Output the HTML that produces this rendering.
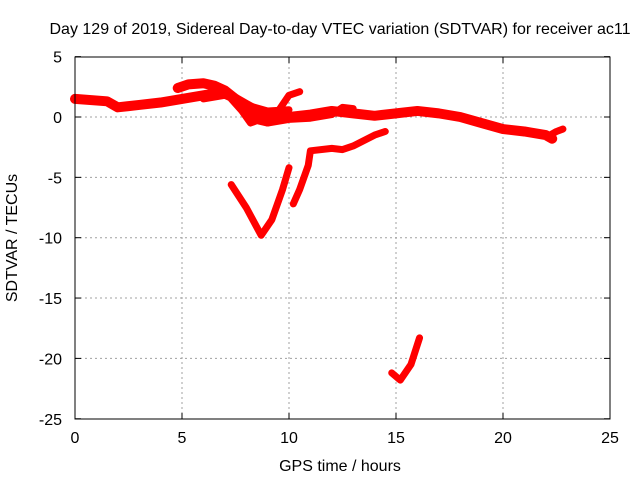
<!DOCTYPE html>
<html><head><meta charset="utf-8"><style>
body{margin:0;background:#fff}
svg{display:block;font-family:"Liberation Sans",sans-serif;font-size:16px}
</style></head><body>
<svg id="chart" width="640" height="480">
<rect width="640" height="480" fill="#fff"/>
<g id="grid"></g>
<g id="series"></g>
<rect x="75" y="57" width="535" height="362" fill="none" stroke="#000" stroke-width="1"/>
<g id="ticks"></g>
<text x="340" y="34" text-anchor="middle">Day 129 of 2019, Sidereal Day-to-day VTEC variation (SDTVAR) for receiver ac11</text>
<text x="340" y="471" text-anchor="middle">GPS time / hours</text>
<text x="17" y="238" text-anchor="middle" transform="rotate(-90 17 238)">SDTVAR / TECUs</text>
</svg>
<script>
const xTicks=[0,5,10,15,20,25];
const yTicks=[5,0,-5,-10,-15,-20,-25];
const trackMain=[[0,1.5],[1.5,1.3],[2,0.8],[3,1.0],[4,1.2],[5,1.5],[6,1.8],[7,2.1],[7.5,1.5],[8,0.5],[8.5,0],[9,-0.3],[10,0],[11,0.2],[12,0.5],[13,0.3],[14,0.1],[15,0.3],[16,0.5],[17,0.3],[18,0],[19,-0.5],[20,-1],[21,-1.2],[22,-1.5],[22.3,-1.8]];
const trackArc=[[4.8,2.4],[5.3,2.7],[6,2.8],[6.5,2.6],[7,2.2],[7.5,1.5],[8,1.0],[8.5,0.5],[9,0.3]];
const trackLoop=[[7.3,1.5],[7.8,0.5],[8.2,-0.5],[8.5,-0.3],[9,-0.5],[9.5,0.5],[10,1.8],[10.5,2.1]];
const trackMid=[[9,-0.5],[10,-0.2],[11,-0.1],[12,0.2],[12.5,0.8],[13,0.7]];
const trackUpper=[[6,1.5],[7,1.8],[8,1.0],[9,0.5],[10,0.6]];
const trackEnd=[[22.2,-1.5],[22.5,-1.2],[22.8,-1.0]];
const trackRise=[[10.2,-7.2],[10.5,-6],[10.9,-4],[11,-2.8],[12,-2.6],[12.5,-2.7],[13,-2.4],[14,-1.5],[14.5,-1.2]];
const trackV=[[7.3,-5.6],[8,-7.5],[8.7,-9.8],[9.2,-8.5],[9.7,-6],[10,-4.2]];
const trackLow=[[14.8,-21.2],[15.2,-21.8],[15.7,-20.5],[16.1,-18.3]];
const tracks=[trackMain,trackArc,trackLoop,trackMid,trackUpper,trackEnd,trackRise,trackV,trackLow];
const sx=h=>75+h*21.4, sy=v=>117-v*12.07;
const NS="http://www.w3.org/2000/svg";
const grid=document.getElementById('grid'),ticks=document.getElementById('ticks'),ser=document.getElementById('series');
function mk(tag,attrs,parent){const e=document.createElementNS(NS,tag);for(const k in attrs)e.setAttribute(k,attrs[k]);parent.appendChild(e);return e;}
xTicks.forEach(t=>{const x=sx(t);
 if(t>0&&t<25){const g=mk('line',{x1:x,x2:x,y1:57,y2:419,stroke:'#a0a0a0','stroke-dasharray':'2,3'},grid);
 
 }
 mk('line',{x1:x,x2:x,y1:419,y2:413,stroke:'#000'},ticks);mk('line',{x1:x,x2:x,y1:57,y2:63,stroke:'#000'},ticks);
 const l=mk('text',{x:x,y:443,'text-anchor':'middle'},ticks);l.textContent=t;
 
 });
yTicks.forEach(t=>{const y=sy(t);
 if(t<5&&t>-25){const g=mk('line',{x1:75,x2:610,y1:y,y2:y,stroke:'#a0a0a0','stroke-dasharray':'2,3'},grid);
 
 }
 mk('line',{x1:75,x2:81,y1:y,y2:y,stroke:'#000'},ticks);mk('line',{x1:610,x2:604,y1:y,y2:y,stroke:'#000'},ticks);
 const l=mk('text',{x:62,y:y+6,'text-anchor':'end'},ticks);l.textContent=t;
 
 });
tracks.forEach((tr,i)=>{const p=mk('polyline',{points:tr.map(d=>sx(d[0])+','+sy(d[1])).join(' '),fill:'none',stroke:'#ff0000','stroke-width':i<2?10:7,'stroke-linejoin':'round','stroke-linecap':'round'},ser);
 
 });
</script>
</body></html>
